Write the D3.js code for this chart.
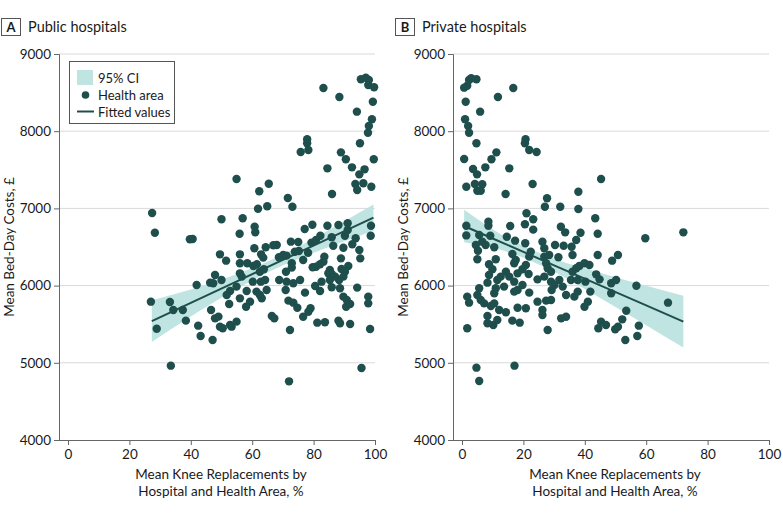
<!DOCTYPE html>
<html>
<head>
<meta charset="utf-8">
<title>Bed-day costs vs knee replacements</title>
<script src="https://cdn.jsdelivr.net/npm/d3@7"></script>
<style>
  body { margin: 0; background: #fff; }
  svg text { font-family: Lato, "Liberation Sans", sans-serif; fill: #1a1a1a; }
</style>
</head>
<body>
<svg id="chart" width="783" height="513"></svg>
<script>
// ---- data ----
const publicShare = [95.4,97.0,98.0,97.8,99.7,99.3,99.0,98.0,97.7,83.2,88.4,94.1,77.9,95.1,99.6,77.9,75.8,78.3,88.9,90.5,
  84.5,92.5,96.6,94.9,93.6,94.2,96.2,98.8,86.0,54.9,62.3,65.4,61.9,64.9,71.6,73.1,50.0,56.9,55.9,60.8,
  61.0,77.1,79.6,84.5,88.1,91.1,91.1,98.7,98.6,60.7,64.4,66.9,68.0,72.6,75.0,79.3,80.8,82.2,85.9,90.2,
  93.7,86.4,89.7,92.6,94.9,56.0,62.9,49.5,70.1,75.2,78.2,83.5,95.2,63.6,73.9,68.7,71.2,76.6,88.9,58.4,
  60.4,61.5,63.8,62.5,56.0,56.0,72.9,72.9,71.0,79.7,80.8,82.1,83.2,85.3,84.8,85.9,89.1,91.3,90.2,89.7,
  87.0,88.3,56.6,60.2,62.8,64.2,68.8,71.2,73.4,75.6,80.5,82.6,85.3,85.9,88.6,94.2,82.1,70.9,77.2,58.2,
  61.4,62.5,64.7,63.1,59.3,58.0,56.0,89.7,90.8,91.9,90.6,97.8,97.8,71.8,73.4,74.7,79.0,78.3,76.6,66.4,
  67.2,81.2,83.7,88.1,88.6,91.9,72.3,98.4,27.4,28.3,27.0,28.9,39.7,40.6,51.5,47.9,46.3,47.3,50.0,41.9,
  54.9,52.8,51.7,52.5,33.2,34.3,37.4,38.4,46.6,47.9,49.0,49.5,50.4,52.8,53.3,54.9,42.4,43.2,47.1,33.5,
  72.0,95.6];
const publicCost = [8672,8693,8663,8598,8569,8382,8154,8067,7980,8560,8443,8253,7895,7843,7636,7843,7730,7756,7726,7636,
  7519,7532,7506,7441,7316,7238,7325,7281,7187,7381,7222,7320,6996,7027,7135,7022,6859,6872,6672,6763,
  6690,6733,6789,6776,6785,6807,6720,6776,6646,6483,6496,6522,6526,6569,6565,6557,6591,6646,6626,6646,
  6613,6517,6491,6535,6461,6405,6405,6405,6396,6448,6426,6374,6353,6362,6439,6367,6388,6332,6353,6289,
  6254,6276,6211,6180,6289,6159,6289,6233,6180,6237,6245,6276,6310,6202,6159,6150,6215,6254,6180,6116,
  6116,6073,6116,6051,6051,6073,6073,6051,6030,6073,5995,6051,6073,5978,5965,5974,5930,5943,5909,5930,
  5922,5878,5943,5835,5792,5727,5835,5857,5813,5762,5727,5857,5770,5805,5779,5714,5706,5662,5597,5606,
  5576,5520,5525,5546,5512,5503,5425,5438,6940,6685,5792,5442,6600,6604,6323,6137,6038,6030,6073,6008,
  5987,5930,5878,5762,5788,5684,5684,5546,5684,5576,5598,5468,5447,5490,5468,5533,5481,5347,5295,4963,
  4760,4933];

const privateShare = [0.7,2.3,3.0,4.7,1.7,1.2,1.0,2.0,2.3,5.9,11.7,16.7,20.7,4.7,20.5,21.9,24.3,0.7,11.2,9.6,
  7.6,3.6,4.9,15.4,1.4,4.2,6.6,5.0,6.1,14.2,23.0,45.3,37.9,27.7,27.0,32.0,37.9,21.0,23.2,20.5,
  43.4,44.2,1.4,1.4,8.6,8.6,9.2,15.7,23.2,32.2,33.6,38.6,37.2,5.6,6.6,4.5,5.2,7.7,10.5,14.6,
  17.3,20.6,26.2,26.8,30.3,33.1,35.7,59.7,72.1,5.0,8.8,9.9,8.8,11.0,16.4,17.5,17.0,20.8,21.9,22.4,
  26.8,28.4,27.4,27.9,31.4,36.0,44.2,50.8,48.9,8.3,11.5,12.6,14.3,15.4,18.1,19.7,13.7,17.0,19.7,21.7,
  24.6,26.8,29.0,29.0,30.1,31.7,32.8,36.0,37.2,38.2,35.5,37.7,39.9,41.5,40.2,43.7,44.8,48.6,50.2,56.8,
  48.6,1.7,2.3,5.6,5.0,6.1,7.2,9.4,10.5,10.5,11.0,12.1,14.3,18.1,20.8,17.0,18.1,21.9,24.6,27.4,
  29.0,26.2,26.2,29.2,33.9,36.6,37.7,39.9,41.0,41.8,32.3,33.9,8.3,8.3,10.2,11.5,16.4,18.8,27.9,1.7,
  53.5,52.2,45.3,46.9,44.4,50.8,49.9,57.6,53.2,57.1,67.1,4.7,5.6,17.1];
const privateCost = [8564,8663,8685,8672,8589,8382,8154,8067,7980,8253,8443,8560,7895,7843,7843,7756,7730,7640,7726,7636,
  7532,7510,7441,7519,7281,7316,7312,7229,7229,7187,7316,7381,7216,7131,7022,7022,6992,6937,6859,6794,
  6872,6672,6776,6650,6828,6776,6646,6772,6725,6763,6690,6685,6591,6655,6569,6526,6452,6526,6496,6633,
  6582,6548,6569,6483,6526,6517,6504,6613,6690,6341,6276,6211,6137,6341,6409,6332,6289,6267,6375,6439,
  6375,6396,6289,6224,6367,6396,6396,6396,6323,6038,6073,6116,6180,6116,6159,6211,5987,6051,6008,6150,
  6081,6116,6180,6051,6008,6073,5987,6180,6224,6254,6073,6073,6289,6267,6051,6146,6081,6030,6073,5999,
  5900,5857,5779,5965,5878,5813,5770,5736,5770,5900,5965,5684,5654,5714,5706,5922,5943,5909,5792,5805,
  5813,5684,5619,5943,5878,5857,5922,5727,5792,5922,5576,5597,5606,5512,5490,5554,5546,5520,5425,5447,
  5675,5563,5533,5490,5447,5468,5434,5481,5295,5347,5779,4937,4764,4963];

// fitted line and 95% CI band
const publicFitX = [27.3, 40, 55, 70, 85, 99.5];
const publicFit  = [5540, 5776, 6055, 6333, 6611, 6880];
const publicCiLo = [5270, 5601, 5960, 6263, 6501, 6710];
const publicCiHi = [5810, 5951, 6150, 6403, 6721, 7050];

const privateFitX = [0.7, 10, 20, 30, 45, 60, 72.1];
const privateFit  = [6772, 6610, 6437, 6263, 6003, 5743, 5533];
const privateCiLo = [6562, 6490, 6362, 6178, 5838, 5488, 5198];
const privateCiHi = [6982, 6730, 6512, 6348, 6168, 5998, 5868];

const xTicks = [0, 20, 40, 60, 80, 100];
const yTicks = [4000, 5000, 6000, 7000, 8000, 9000];

const panels = [
  { letter: "A", title: "Public hospitals", left: 0, share: publicShare, cost: publicCost,
    fitX: publicFitX, fit: publicFit, lo: publicCiLo, hi: publicCiHi, legend: true },
  { letter: "B", title: "Private hospitals", left: 394, share: privateShare, cost: privateCost,
    fitX: privateFitX, fit: privateFit, lo: privateCiLo, hi: privateCiHi, legend: false }
];

const dark = "#1f4f4d";
const band = "#bfe4e1";
const svg = d3.select("#chart");

panels.forEach(p => {
  const g = svg.append("g").attr("transform", `translate(${p.left},0)`);
  const x0 = 68, x1 = 375, axisX = 59;
  const x = d3.scaleLinear().domain([0, 100]).range([x0, x1]);
  const y = d3.scaleLinear().domain([4000, 9000]).range([440, 54]);

  // panel heading
  g.append("rect").attr("x", 1.5).attr("y", 18.5).attr("width", 19).attr("height", 17)
    .attr("fill", "none").attr("stroke", "#555").attr("stroke-width", 1);
  g.append("text").attr("x", 11).attr("y", 32).attr("text-anchor", "middle")
    .attr("font-size", 13).attr("font-weight", "bold").text(p.letter);
  g.append("text").attr("x", 28).attr("y", 32).attr("font-size", 14.5).text(p.title);

  // gridlines
  g.append("g").selectAll("line").data(yTicks.slice(1)).join("line")
    .attr("x1", axisX).attr("x2", x1).attr("y1", d => y(d)).attr("y2", d => y(d))
    .attr("stroke", "#d9d9d9").attr("stroke-width", 1);

  // axes
  const yAxis = g.append("g").attr("transform", `translate(${axisX},0)`)
    .call(d3.axisLeft(y).tickValues(yTicks).tickFormat(d3.format("d")).tickSize(5).tickPadding(3));
  const xAxis = g.append("g").attr("transform", `translate(0,${y(4000)})`)
    .call(d3.axisBottom(x).tickValues(xTicks).tickSize(5).tickPadding(4));
  xAxis.select(".domain").attr("d", `M${axisX},0.5H${x1}`);
  [xAxis, yAxis].forEach(a => {
    a.selectAll(".domain, line").attr("stroke", "#666");
    a.selectAll("text").attr("font-size", 13.5).attr("fill", "#1a1a1a")
      .style("font-family", "Lato, 'Liberation Sans', sans-serif");
  });

  // axis titles
  g.append("text").attr("transform", `translate(14,247) rotate(-90)`).attr("text-anchor", "middle")
    .attr("font-size", 13.5).text("Mean Bed-Day Costs, £");
  g.append("text").attr("x", 221).attr("y", 479).attr("text-anchor", "middle")
    .attr("font-size", 13.5).text("Mean Knee Replacements by");
  g.append("text").attr("x", 221).attr("y", 496).attr("text-anchor", "middle")
    .attr("font-size", 13.5).text("Hospital and Health Area, %");

  // CI band
  const idx = d3.range(p.fitX.length);
  g.append("path").datum(idx)
    .attr("d", d3.area().x(i => x(p.fitX[i])).y0(i => y(p.lo[i])).y1(i => y(p.hi[i])).curve(d3.curveMonotoneX))
    .attr("fill", band);

  // points
  g.append("g").selectAll("circle").data(p.share.map((s, i) => [s, p.cost[i]])).join("circle")
    .attr("cx", d => x(d[0])).attr("cy", d => y(d[1])).attr("r", 4.2).attr("fill", dark);

  // fitted line
  g.append("path").datum(idx)
    .attr("d", d3.line().x(i => x(p.fitX[i])).y(i => y(p.fit[i])))
    .attr("fill", "none").attr("stroke", dark).attr("stroke-width", 2);

  if (p.legend) {
    const lg = g.append("g");
    lg.append("rect").attr("x", 69.5).attr("y", 61.5).attr("width", 105).attr("height", 62)
      .attr("fill", "#fff").attr("stroke", "#555");
    lg.append("rect").attr("x", 77).attr("y", 70).attr("width", 16).attr("height", 15).attr("fill", band);
    lg.append("text").attr("x", 98).attr("y", 83).attr("font-size", 13).text("95% CI");
    lg.append("circle").attr("cx", 85.5).attr("cy", 95).attr("r", 3.8).attr("fill", dark);
    lg.append("text").attr("x", 98).attr("y", 100).attr("font-size", 13).text("Health area");
    lg.append("line").attr("x1", 77).attr("x2", 94).attr("y1", 111.5).attr("y2", 111.5)
      .attr("stroke", dark).attr("stroke-width", 2);
    lg.append("text").attr("x", 98).attr("y", 116.5).attr("font-size", 13).text("Fitted values");
  }
});
</script>
</body>
</html>
